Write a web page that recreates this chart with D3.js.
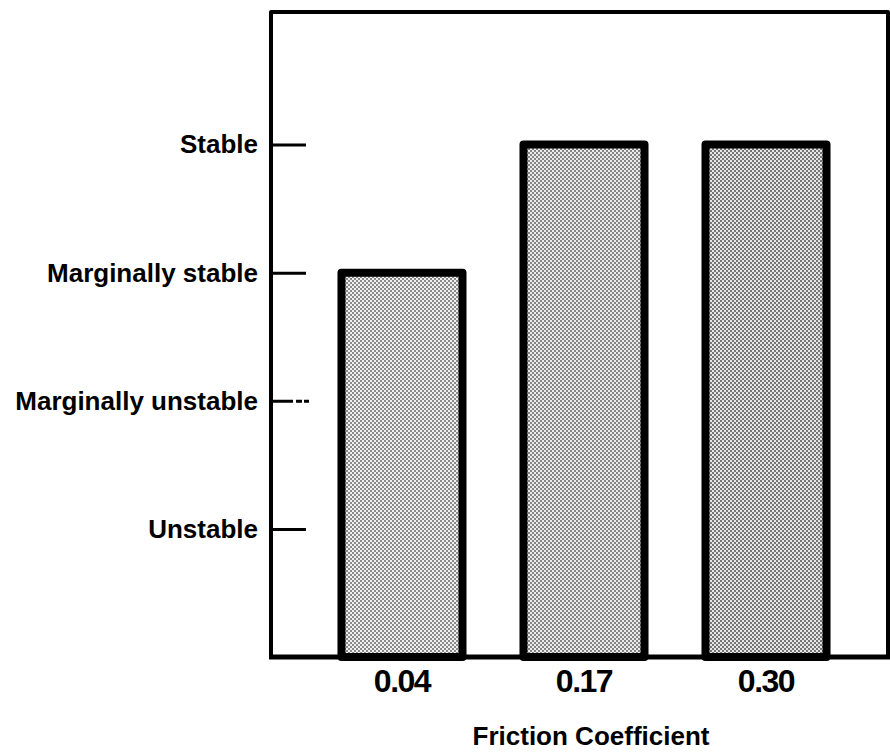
<!DOCTYPE html>
<html>
<head>
<meta charset="utf-8">
<script src="https://cdn.jsdelivr.net/npm/d3@7"></script>
<style>
  html, body { margin: 0; padding: 0; background: #fff; }
  svg { display: block; }
  text { font-family: "Liberation Sans", Arial, sans-serif; font-weight: bold; fill: #000; }
</style>
</head>
<body>
<svg id="chart" width="890" height="753"></svg>
<script>
// ---- data ----
const categories = ["0.04", "0.17", "0.30"];
const stabilityLevels = [3, 4, 4];           // 1=Unstable ... 4=Stable
const levelValues = [1, 2, 3, 4];
const levelLabels = ["Unstable", "Marginally unstable", "Marginally stable", "Stable"];
const xTitle = "Friction Coefficient";

// ---- layout ----
const W = 890, H = 753;
const axisX = 271, frameRight = 888;
const svg = d3.select("#chart");

const y = d3.scaleLinear().domain([0, 5]).range([657, 16.5]);
const x = d3.scaleBand().domain(categories).range([280.5, 887.5])
  .paddingInner(0.335).paddingOuter(0.335);

// halftone patterns
const defs = svg.append("defs");
function dotPattern(id, bg, dot) {
  const p = defs.append("pattern").attr("id", id)
    .attr("patternUnits", "userSpaceOnUse").attr("width", 4).attr("height", 4);
  p.append("rect").attr("width", 4).attr("height", 4).attr("fill", bg);
  p.append("rect").attr("x", 0).attr("y", 0).attr("width", 2).attr("height", 2).attr("fill", dot);
  p.append("rect").attr("x", 2).attr("y", 2).attr("width", 2).attr("height", 2).attr("fill", dot);
}
dotPattern("dots1", "#f0f0f0", "#8a8a8a");
dotPattern("dots2", "#ececec", "#848484");
dotPattern("dots3", "#e6e6e6", "#767676");
const fills = ["url(#dots1)", "url(#dots2)", "url(#dots3)"];

// bars
svg.append("g").selectAll("rect")
  .data(categories)
  .join("rect")
  .attr("x", d => x(d))
  .attr("y", (d, i) => y(stabilityLevels[i]))
  .attr("width", x.bandwidth())
  .attr("height", (d, i) => y(0) - y(stabilityLevels[i]))
  .attr("fill", (d, i) => fills[i])
  .attr("stroke", "#000")
  .attr("stroke-width", 8)
  .attr("stroke-linejoin", "round");

// frame (left, top and right)
const topY = y(5.035);
svg.append("path")
  .attr("d", `M${axisX},${y(0)} L${axisX},${topY} L${frameRight},${topY} L${frameRight},${y(0)}`)
  .attr("fill", "none").attr("stroke", "#000").attr("stroke-width", 4)
  .attr("stroke-linejoin", "round");

// y axis (ticks pointing inward)
const yAxis = d3.axisLeft(y)
  .tickValues(levelValues)
  .tickFormat((d, i) => levelLabels[i])
  .tickSize(-35)
  .tickPadding(13);
const gy = svg.append("g").attr("transform", `translate(${axisX},0)`).call(yAxis);
gy.select(".domain").remove();
gy.selectAll(".tick line").attr("stroke", "#000").attr("stroke-width", 3);
gy.selectAll(".tick").filter(d => d === 2).select("line")
  .attr("x1", 0).attr("x2", 38)
  .attr("stroke-dasharray", "22,3,6,2,5");
gy.selectAll(".tick text")
  .attr("font-size", 26)
  .attr("font-family", "'Liberation Sans', Arial, sans-serif")
  .attr("font-weight", "bold")
  .attr("fill", "#000");

// x axis
const xAxis = d3.axisBottom(x).tickSize(0).tickPadding(12);
const gx = svg.append("g").attr("transform", `translate(0,${y(0)})`).call(xAxis);
gx.select(".domain").remove();
gx.selectAll(".tick text")
  .attr("font-size", 32)
  .attr("letter-spacing", -1.5)
  .attr("font-family", "'Liberation Sans', Arial, sans-serif")
  .attr("font-weight", "bold")
  .attr("fill", "#000");

// baseline
svg.append("line")
  .attr("x1", axisX - 2).attr("x2", W)
  .attr("y1", y(0)).attr("y2", y(0))
  .attr("stroke", "#000").attr("stroke-width", 5);

// x title
svg.append("text")
  .attr("x", 591).attr("y", 745)
  .attr("text-anchor", "middle")
  .attr("font-size", 26)
  .text(xTitle);
</script>
</body>
</html>
